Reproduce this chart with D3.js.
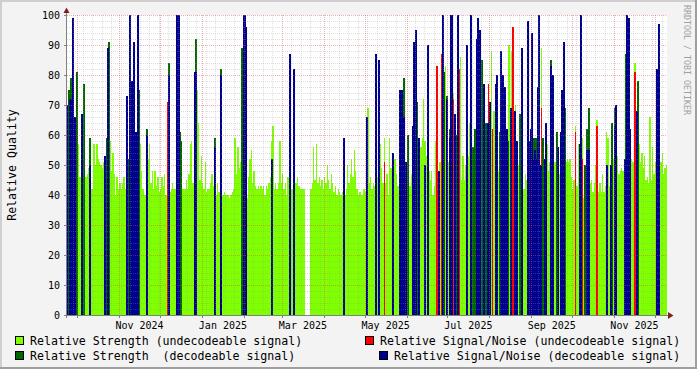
<!DOCTYPE html>
<html>
<head>
<meta charset="utf-8">
<script src="https://cdn.jsdelivr.net/npm/d3@7"></script>
<style>
  body { margin: 0; background: #f3f3f3; }
  svg { display: block; }
  text { font-family: "DejaVu Sans Mono", monospace; fill: #000; }
</style>
</head>
<body>
<div id="chart"></div>
<script>
// one value per day, starting 2024-09-23
const firstDay = "2024-09-23";

// Relative Strength (undecodeable signal), null = no value that day
const strengthUndecodeable = [
  null,null,null,null,null,null,null,null,57,46,
  46,null,null,41,46,47,49,null,42,42,
  57,50,57,52,51,50,49,51,null,null,
  null,null,58,48,54,47,40,46,42,44,
  42,44,46,42,null,45,null,44,null,null,
  null,null,null,54,57,48,42,40,40,null,
  52,57,44,48,42,48,43,46,41,42,
  46,43,47,40,null,null,41,42,44,42,
  42,null,null,null,null,42,42,42,45,42,
  47,57,58,44,null,null,75,64,45,53,
  44,42,51,41,42,42,44,47,43,null,
  40,44,41,null,41,40,41,40,40,40,
  39,40,41,42,59,47,56,49,51,null,
  null,null,null,39,46,52,55,44,48,43,
  42,43,42,43,42,43,40,43,42,44,
  46,58,63,42,44,42,44,58,44,47,
  42,44,40,46,null,76,42,null,52,44,
  46,43,42,42,42,42,null,null,null,null,
  42,44,56,45,57,44,46,43,45,42,
  46,44,50,45,42,47,44,41,43,40,
  42,41,40,41,null,40,42,50,44,47,
  52,46,55,48,42,40,41,40,40,42,
  41,null,69,44,46,42,44,43,null,46,
  null,57,49,44,59,44,47,40,59,49,
  null,45,52,47,43,null,53,null,null,42,
  null,null,57,43,47,null,null,null,null,null,
  57,56,59,72,58,53,null,48,45,48,
  40,43,58,null,null,51,null,null,null,83,
  null,51,null,null,null,74,null,null,null,null,
  86,45,53,45,50,null,53,64,null,null,
  45,null,null,null,null,null,null,null,52,null,
  null,null,null,88,null,68,null,null,48,null,
  null,null,null,null,null,null,90,null,88,null,
  null,70,null,50,null,null,48,42,47,45,
  null,null,null,null,null,null,null,null,null,null,
  89,null,null,null,57,48,51,null,null,50,
  51,null,null,47,null,null,null,null,51,52,
  51,52,46,42,45,63,43,57,null,null,
  59,39,null,null,57,null,44,45,41,44,
  50,65,41,44,41,47,41,43,61,59,
  43,null,null,52,null,null,53,47,48,49,
  48,null,null,null,null,null,52,51,51,84,
  null,null,57,51,54,49,53,45,46,44,
  66,45,56,47,51,null,null,47,51,54,
  47,49,50
];

// Relative Signal/Noise (undecodeable signal): day index, value
const snrUndecodeableDays = [74, 165, 234, 273, 276, 285, 289, 311, 314, 329, 350, 375, 380, 391, 419];
const snrUndecodeableValues = [71, 55, 51, 83, 87, 72, 82, 77, 62, 96, 69, 61, 52, 63, 81];

// Relative Strength (decodeable signal)
const strengthDecodeableDays = [1, 3, 5, 7, 12, 17, 29, 31, 45, 48, 50, 53, 59, 75, 83, 84, 95, 109, 113, 129,
  248, 251, 258, 278, 280, 282, 284, 287, 299, 301, 304, 305, 306, 309, 317, 319, 322, 325, 334, 341,
  344, 346, 351, 357, 361, 367, 382, 383, 385, 402, 404, 412, 414, 421];
const strengthDecodeableValues = [75, 79, 64, 81, 77, 59, 59, 91, 52, 75, 54, 75, 62, 84, 61, 58, 92, 59, 82, 89,
  79, 60, 71, 81, 73, 62, 90, 60, 56, 62, 85, 80, 85, 64, 72, 61, 65, 58, 67, 58,
  59, 59, 59, 85, 61, 69, 50, 62, 69, 64, 69, 87, 92, 78];

// Relative Signal/Noise (decodeable signal)
const snrDecodeableDays = [0, 2, 3, 4, 6, 11, 17, 28, 30, 44, 46, 48, 49, 51, 52, 59, 75, 81, 82, 94,
  95, 109, 113, 130, 131, 132, 151, 164, 167, 204, 221, 228, 230, 240, 245, 247, 248, 250, 255, 256,
  257, 259, 264, 266, 274, 277, 280, 282, 283, 284, 286, 288, 295, 298, 302, 303, 304, 307, 310, 312,
  316, 317, 320, 321, 323, 324, 327, 330, 332, 335, 340, 341, 342, 343, 344, 345, 346, 347, 348, 349,
  352, 353, 357, 358, 362, 364, 365, 366, 378, 379, 383, 385, 398, 401, 404, 405, 411, 413, 414, 415,
  420, 435, 436];
const snrDecodeableValues = [70, 72, 72, 99, 66, 67, 50, 53, 89, 73, 100, 78, 91, 61, 100, 60, 80, 100, 100, 81,
  81, 56, 80, 100, 100, 96, 52, 87, 82, 59, 66, 87, 85, 54, 75, 75, 66, 51, 63, 91,
  95, 59, 50, 90, 48, 100, 72, 59, 100, 100, 67, 100, 90, 100, 92, 99, 95, 77, 64, 71,
  77, 80, 88, 80, 76, 62, 69, 68, 58, 89, 98, 58, 62, 94, 52, 55, 52, 76, 100, 50,
  52, 64, 83, 80, 56, 61, 75, 91, 57, 100, 55, 55, 50, 50, 63, 70, 52, 100, 99, 62,
  68, 82, 97];

const yTicks = [0, 10, 20, 30, 40, 50, 60, 70, 80, 90, 100];
const xTickLabels = ["Nov 2024", "Jan 2025", "Mar 2025", "May 2025", "Jul 2025", "Sep 2025", "Nov 2025"];

const colors = {
  strengthUndec: "#80ff00",
  snrUndec: "#ff0000",
  strengthDec: "#006600",
  snrDec: "#00008f"
};

const W = 697, H = 369;
const plotLeft = 67, plotRight = 667, plotTop = 15, plotBottom = 315;

const start = d3.utcParse("%Y-%m-%d")(firstDay);
const dayDate = i => d3.utcDay.offset(start, i);

const x = d3.scaleUtc()
  .domain([d3.utcHour.offset(start, 12), new Date(Date.UTC(2025, 11, 10))])
  .range([plotLeft, plotRight]);
const y = d3.scaleLinear().domain([0, 100]).range([plotBottom, plotTop]);

const svg = d3.select("#chart").append("svg")
  .attr("width", W)
  .attr("height", H);

// background and shaded frame
svg.append("rect").attr("width", W).attr("height", H).attr("fill", "#f3f3f3");
svg.append("rect").attr("x", 0).attr("y", 0).attr("width", W).attr("height", 2).attr("fill", "#cfcfcf");
svg.append("rect").attr("x", 0).attr("y", 0).attr("width", 2).attr("height", H).attr("fill", "#cfcfcf");
svg.append("rect").attr("x", 0).attr("y", H - 2).attr("width", W).attr("height", 2).attr("fill", "#9e9e9e");
svg.append("rect").attr("x", W - 2).attr("y", 0).attr("width", 2).attr("height", H).attr("fill", "#9e9e9e");

// canvas
svg.append("rect")
  .attr("x", plotLeft).attr("y", plotTop)
  .attr("width", plotRight - plotLeft).attr("height", plotBottom - plotTop)
  .attr("fill", "#fff");

svg.append("clipPath").attr("id", "plot-clip")
  .append("rect")
  .attr("x", plotLeft).attr("y", plotTop - 2)
  .attr("width", plotRight - plotLeft).attr("height", plotBottom - plotTop + 2);

const plot = svg.append("g").attr("clip-path", "url(#plot-clip)");

// Function to draw one daily series as bars (colored spikes at least 2px wide)
const drawDays = (cls, days, values, color, minWidth) => {
  plot.selectAll("rect." + cls)
    .data(d3.zip(days, values))
    .join("rect")
    .attr("class", cls)
    .attr("x", d => Math.round(x(dayDate(d[0]))))
    .attr("width", d => Math.max(minWidth, Math.round(x(dayDate(d[0] + 1))) - Math.round(x(dayDate(d[0])))))
    .attr("y", d => Math.round(y(d[1])))
    .attr("height", d => y(0) - Math.round(y(d[1])))
    .attr("fill", color)
    .attr("shape-rendering", "crispEdges");
};

const lgDays = d3.range(strengthUndecodeable.length).filter(i => strengthUndecodeable[i] != null);
drawDays("lg", lgDays, lgDays.map(i => strengthUndecodeable[i]), colors.strengthUndec, 1);
drawDays("red", snrUndecodeableDays, snrUndecodeableValues, colors.snrUndec, 1);
drawDays("dk", strengthDecodeableDays, strengthDecodeableValues, colors.strengthDec, 2);
drawDays("blue", snrDecodeableDays, snrDecodeableValues, colors.snrDec, 2);

// grid on top of the data, dotted like rrdtool
const grid = svg.append("g").attr("stroke-dasharray", "1,1").attr("stroke-width", 1);
const minorColor = "rgba(150,150,150,0.3)";
const majorColor = "rgba(222,79,79,0.45)";
const minorY = d3.range(2, 100, 2).filter(v => v % 10 !== 0);
grid.selectAll(".gy").data(minorY).join("line")
  .attr("x1", plotLeft).attr("x2", plotRight)
  .attr("y1", d => y(d) + 0.5).attr("y2", d => y(d) + 0.5)
  .attr("stroke", minorColor);

const months = d3.utcMonth.range(x.domain()[0], x.domain()[1]);
const weeks = d3.utcSaturday.range(x.domain()[0], x.domain()[1])
  .filter(w => !months.some(m => +m === +w));
grid.selectAll(".gx").data(weeks).join("line")
  .attr("x1", d => Math.round(x(d)) + 0.5).attr("x2", d => Math.round(x(d)) + 0.5)
  .attr("y1", plotTop).attr("y2", plotBottom)
  .attr("stroke", minorColor);

grid.selectAll(".my").data(yTicks.filter(v => v > 0)).join("line")
  .attr("x1", plotLeft).attr("x2", plotRight)
  .attr("y1", d => y(d) + 0.5).attr("y2", d => y(d) + 0.5)
  .attr("stroke", majorColor);
grid.selectAll(".mx").data(months).join("line")
  .attr("x1", d => Math.round(x(d)) + 0.5).attr("x2", d => Math.round(x(d)) + 0.5)
  .attr("y1", plotTop).attr("y2", plotBottom)
  .attr("stroke", majorColor);

// axes
const axis = svg.append("g").attr("shape-rendering", "crispEdges").attr("stroke", "#808080");
axis.append("line").attr("x1", plotLeft - 0.5).attr("x2", plotLeft - 0.5).attr("y1", plotBottom + 3).attr("y2", 10);
axis.append("line").attr("x1", plotLeft - 3).attr("x2", plotRight + 2).attr("y1", plotBottom + 0.5).attr("y2", plotBottom + 0.5);
axis.selectAll(".ty").data(yTicks).join("line")
  .attr("x1", plotLeft - 3).attr("x2", plotLeft)
  .attr("y1", d => y(d) + 0.5).attr("y2", d => y(d) + 0.5);
axis.selectAll(".tx").data(months).join("line")
  .attr("x1", d => Math.round(x(d)) + 0.5).attr("x2", d => Math.round(x(d)) + 0.5)
  .attr("y1", plotBottom).attr("y2", plotBottom + 3);

svg.append("path")
  .attr("d", `M${plotLeft - 3.5},13 L${plotLeft - 0.5},7.5 L${plotLeft + 2.5},13 Z`)
  .attr("fill", "#801f1f");
svg.append("path")
  .attr("d", `M${plotRight + 1},312 L${plotRight + 6.5},315.5 L${plotRight + 1},319 Z`)
  .attr("fill", "#801f1f");

// y labels
svg.selectAll(".ylab").data(yTicks).join("text")
  .attr("x", 60)
  .attr("y", d => y(d) + 4)
  .attr("text-anchor", "end")
  .style("font-size", "10px")
  .text(d => d);

// x labels, centered inside their month
const parseLabel = d3.utcParse("%b %Y");
svg.selectAll(".xlab").data(xTickLabels).join("text")
  .attr("x", d => {
    const m = parseLabel(d);
    return (x(m) + x(d3.utcMonth.offset(m, 1))) / 2;
  })
  .attr("y", 328.5)
  .attr("text-anchor", "middle")
  .style("font-size", "10px")
  .text(d => d);

// y-axis title
svg.append("text")
  .attr("transform", "translate(16,165) rotate(-90)")
  .attr("text-anchor", "middle")
  .style("font-size", "11.6px")
  .text("Relative Quality");

// watermark
svg.append("text")
  .attr("transform", "translate(684,5) rotate(90)")
  .attr("textLength", 110)
  .attr("lengthAdjust", "spacingAndGlyphs")
  .style("font-size", "9.5px")
  .style("fill", "#a0a0a0")
  .text("RRDTOOL / TOBI OETIKER");

// legend
const legendItems = [
  { label: "Relative Strength (undecodeable signal)", color: colors.strengthUndec, bx: 15, tx: 30, row: 0 },
  { label: "Relative Signal/Noise (undecodeable signal)", color: colors.snrUndec, bx: 365, tx: 380, row: 0 },
  { label: "Relative Strength  (decodeable signal)", color: colors.strengthDec, bx: 15, tx: 30, row: 1 },
  { label: "Relative Signal/Noise (decodeable signal)", color: colors.snrDec, bx: 379, tx: 394, row: 1 }
];
const legend = svg.append("g");
legend.selectAll("rect").data(legendItems).join("rect")
  .attr("x", d => d.bx + 0.5)
  .attr("y", d => 336.5 + d.row * 14.5)
  .attr("width", 8).attr("height", 8)
  .attr("fill", d => d.color)
  .attr("stroke", "#000")
  .attr("shape-rendering", "crispEdges");
legend.selectAll("text").data(legendItems).join("text")
  .attr("x", d => d.tx)
  .attr("y", d => 345 + d.row * 14.5)
  .style("font-size", "11.6px")
  .style("white-space", "pre")
  .text(d => d.label);
</script>
</body>
</html>
